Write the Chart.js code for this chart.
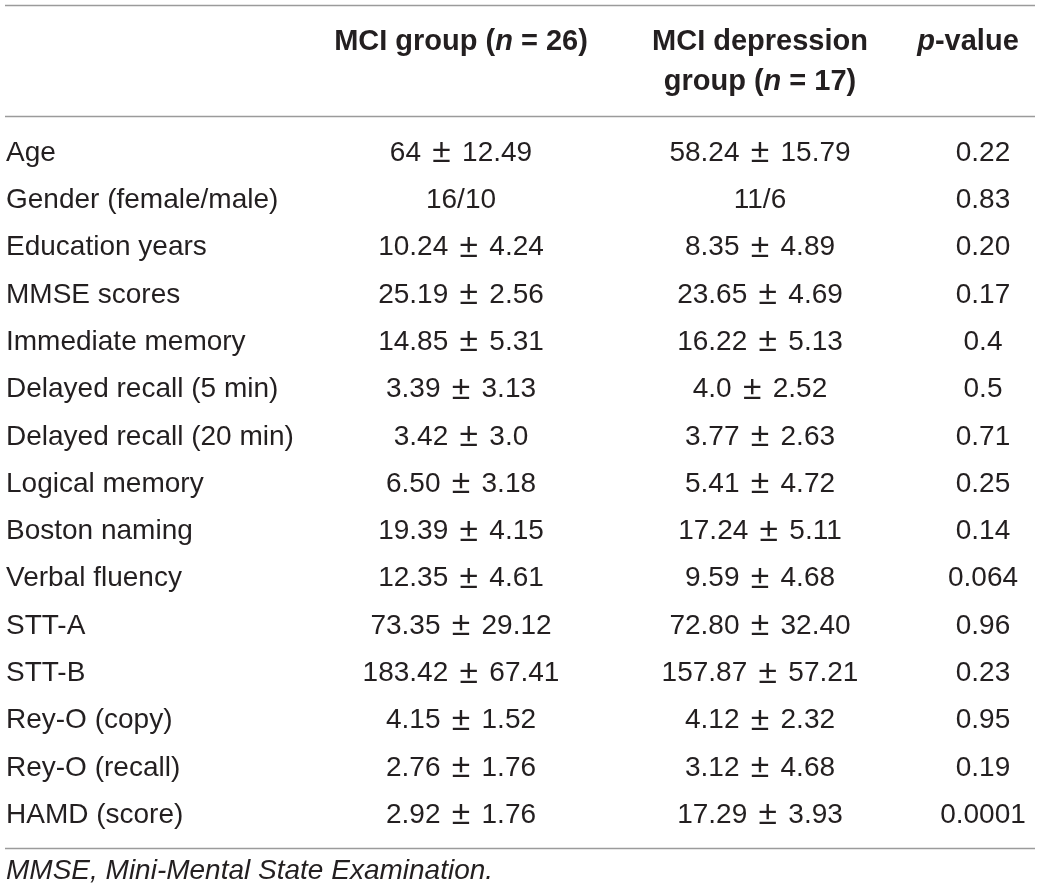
<!DOCTYPE html>
<html>
<head>
<meta charset="utf-8">
<script src="https://cdn.jsdelivr.net/npm/chart.js@4.4.0/dist/chart.umd.min.js"></script>
<style>
  html, body { margin: 0; padding: 0; background: #fff; }
  #wrap { width: 1040px; height: 896px; }
</style>
</head>
<body>
<div id="wrap"><canvas id="tableChart" width="1040" height="896"></canvas></div>
<script>
// table content
const rowLabels = [
  "Age", "Gender (female/male)", "Education years", "MMSE scores", "Immediate memory",
  "Delayed recall (5 min)", "Delayed recall (20 min)", "Logical memory", "Boston naming",
  "Verbal fluency", "STT-A", "STT-B", "Rey-O (copy)", "Rey-O (recall)", "HAMD (score)"
];
const mciGroup = [
  "64 ± 12.49", "16/10", "10.24 ± 4.24", "25.19 ± 2.56", "14.85 ± 5.31",
  "3.39 ± 3.13", "3.42 ± 3.0", "6.50 ± 3.18", "19.39 ± 4.15", "12.35 ± 4.61",
  "73.35 ± 29.12", "183.42 ± 67.41", "4.15 ± 1.52", "2.76 ± 1.76", "2.92 ± 1.76"
];
const mciDepression = [
  "58.24 ± 15.79", "11/6", "8.35 ± 4.89", "23.65 ± 4.69", "16.22 ± 5.13",
  "4.0 ± 2.52", "3.77 ± 2.63", "5.41 ± 4.72", "17.24 ± 5.11", "9.59 ± 4.68",
  "72.80 ± 32.40", "157.87 ± 57.21", "4.12 ± 2.32", "3.12 ± 4.68", "17.29 ± 3.93"
];
const pValues = [
  "0.22", "0.83", "0.20", "0.17", "0.4", "0.5", "0.71", "0.25", "0.14",
  "0.064", "0.96", "0.23", "0.95", "0.19", "0.0001"
];
// header cells, italic parts marked with i
const headerCells = [
  [{ t: "MCI group (" }, { t: "n", i: true }, { t: " = 26)" }],
  [{ t: "MCI depression" }],
  [{ t: "group (" }, { t: "n", i: true }, { t: " = 17)" }],
  [{ t: "p", i: true }, { t: "-value" }]
];
const headerCol = ["mci", "dep", "dep", "pHead"];
const headerLine = [0, 0, 1, 0];
const footnote = "MMSE, Mini-Mental State Examination.";

// layout (x in canvas units, y in row units)
const colX = { label: 6, mci: 461, dep: 760, p: 983, pHead: 968 };
const headerY = [-2.35, -1.5];
const ruleY = [-3.13, -0.78, 14.69];
const footY = 15.18;
const ruleFrom = 5, ruleTo = 1035;

const FONT = '"Liberation Sans", Arial, Helvetica, sans-serif';
const INK = "#231f20";

// the ± sign is set a little larger than the digits in the source
function toSegs(cell) {
  if (typeof cell !== "string") return cell;
  const parts = cell.split(" ± ");
  if (parts.length < 2) return [{ t: cell }];
  return [{ t: parts[0] }, { t: " ± ", pad: 2, scale: 1.2 }, { t: parts[1] }];
}

function drawRich(ctx, segs, x, y, align, size, weight, italic) {
  const fontOf = s => `${(s.i || italic) ? "italic " : ""}${weight} ${size * (s.scale || 1)}px ${FONT}`;
  let total = 0;
  const widths = segs.map(s => {
    ctx.font = fontOf(s);
    const w = ctx.measureText(s.t).width + 2 * (s.pad || 0);
    total += w;
    return w;
  });
  let cx = align === "center" ? x - total / 2 : x;
  segs.forEach((s, k) => {
    ctx.font = fontOf(s);
    ctx.fillText(s.t, cx + (s.pad || 0), y);
    cx += widths[k];
  });
}

const cellText = {
  id: "cellText",
  beforeDatasetsDraw(chart) {
    const { ctx, scales } = chart;
    ctx.save();
    ctx.strokeStyle = "#9b9b9b";
    ctx.lineWidth = 1.5;
    ruleY.forEach(r => {
      const y = Math.round(scales.y.getPixelForValue(r)) + 0.5;
      ctx.beginPath();
      ctx.moveTo(scales.x.getPixelForValue(ruleFrom), y);
      ctx.lineTo(scales.x.getPixelForValue(ruleTo), y);
      ctx.stroke();
    });
    ctx.restore();
  },
  afterDatasetsDraw(chart) {
    const { ctx } = chart;
    ctx.save();
    ctx.fillStyle = INK;
    ctx.textBaseline = "middle";
    chart.data.datasets.forEach((ds, i) => {
      const meta = chart.getDatasetMeta(i);
      meta.data.forEach((pt, j) => {
        drawRich(ctx, toSegs(ds.cells[j]), pt.x, pt.y, ds.align, ds.size, ds.weight, ds.italic);
      });
    });
    ctx.restore();
  }
};

function column(cells, x, align) {
  return {
    data: cells.map((_, i) => ({ x: x, y: i })),
    cells: cells, align: align, size: 28, weight: "normal"
  };
}

const datasets = [
  column(rowLabels, colX.label, "left"),
  column(mciGroup, colX.mci, "center"),
  column(mciDepression, colX.dep, "center"),
  column(pValues, colX.p, "center"),
  {
    data: headerCells.map((_, k) => ({ x: colX[headerCol[k]], y: headerY[headerLine[k]] })),
    cells: headerCells, align: "center", size: 29, weight: "bold"
  },
  {
    data: [{ x: colX.label, y: footY }],
    cells: [footnote], align: "left", size: 28, weight: "normal", italic: true
  }
];
datasets.forEach(ds => { ds.pointRadius = 0; ds.pointHitRadius = 0; ds.showLine = false; });

const topY = -153 / 47.3;
new Chart(document.getElementById("tableChart").getContext("2d"), {
  type: "scatter",
  data: { datasets: datasets },
  options: {
    responsive: false,
    animation: false,
    events: [],
    layout: { padding: 0 },
    plugins: { legend: { display: false }, tooltip: { enabled: false } },
    scales: {
      x: { type: "linear", min: 0, max: 1040, display: false },
      y: { type: "linear", min: topY, max: topY + 896 / 47.3, reverse: true, display: false }
    }
  },
  plugins: [cellText]
});
</script>
</body>
</html>
